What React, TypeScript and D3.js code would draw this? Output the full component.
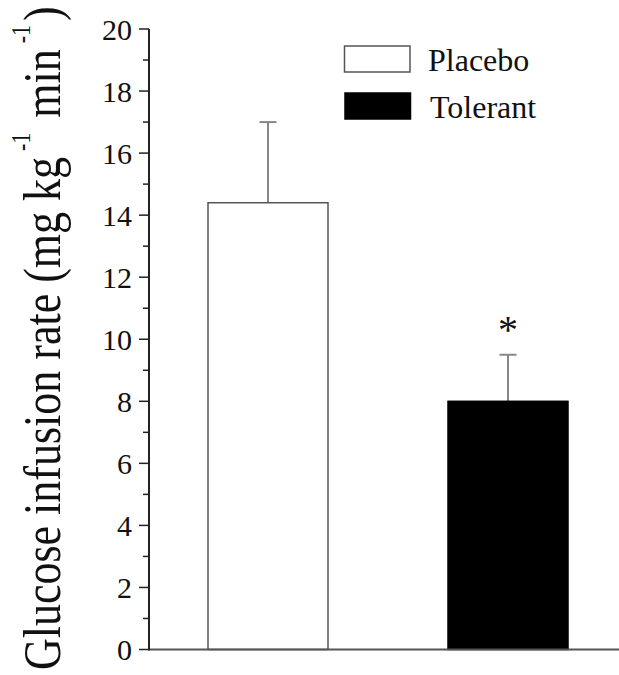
import React from "react";
import * as d3 from "d3";

const categories = ["Placebo", "Tolerant"];
const values = [14.4, 8.0];
const errors = [2.6, 1.5];
const fills = ["#ffffff", "#000000"];
const majorTicks = [0, 2, 4, 6, 8, 10, 12, 14, 16, 18, 20];
const minorTicks = [1, 3, 5, 7, 9, 11, 13, 15, 17, 19];
const significance = ["", "*"];

const W = 619;
const H = 675;
const FONT = "'Liberation Serif', 'Times New Roman', serif";

export default function App() {
  const y = d3.scaleLinear().domain([0, 20]).range([649.5, 29]);
  const x = d3
    .scaleBand<string>()
    .domain(categories)
    .range([148, 628])
    .paddingInner(0.5)
    .paddingOuter(0.25);
  const axisX = 149;

  return (
    <svg
      width={W}
      height={H}
      style={{ position: "absolute", left: 0, top: 0, background: "#fff" }}
      fontFamily={FONT}
    >
      {/* bars */}
      {categories.map((c, i) => {
        const x0 = x(c)!;
        const bw = x.bandwidth();
        const cx = x0 + bw / 2;
        return (
          <g key={c}>
            <line
              x1={cx}
              x2={cx}
              y1={y(values[i])}
              y2={y(values[i] + errors[i])}
              stroke="#888"
              strokeWidth={2}
            />
            <line
              x1={cx - 8.5}
              x2={cx + 8.5}
              y1={y(values[i] + errors[i])}
              y2={y(values[i] + errors[i])}
              stroke="#888"
              strokeWidth={2}
            />
            <rect
              x={x0}
              y={y(values[i])}
              width={bw}
              height={y(0) - y(values[i])}
              fill={fills[i]}
              stroke={i === 0 ? "#555" : "#000"}
              strokeWidth={1.5}
            />
            {significance[i] && (
              <text
                x={cx}
                y={343}
                textAnchor="middle"
                fontSize={40}
                fill="#111"
              >
                {significance[i]}
              </text>
            )}
          </g>
        );
      })}

      {/* x axis line */}
      <line x1={axisX} x2={W} y1={y(0)} y2={y(0)} stroke="#555" strokeWidth={2} />

      {/* y axis */}
      <line x1={axisX} x2={axisX} y1={y(20)} y2={y(0) + 1} stroke="#222" strokeWidth={2} />
      {majorTicks.map((t) => (
        <g key={"M" + t}>
          <line x1={axisX - 10} x2={axisX} y1={y(t)} y2={y(t)} stroke="#222" strokeWidth={1.5} />
          <text
            x={132}
            y={y(t)}
            dy="0.35em"
            textAnchor="end"
            fontSize={30}
            fill="#111"
          >
            {t}
          </text>
        </g>
      ))}
      {minorTicks.map((t) => (
        <line key={"m" + t} x1={axisX - 6} x2={axisX} y1={y(t)} y2={y(t)} stroke="#222" strokeWidth={1.5} />
      ))}

      {/* y label */}
      <text
        transform="translate(60,670) rotate(-90) scale(1,1.2)"
        fontSize={44}
        fill="#111"
        textAnchor="start"
      >
        Glucose infusion rate (mg kg
        <tspan fontSize={22} dx={6} dy={-25}>-1</tspan>
        <tspan dx={4} dy={25}> min</tspan>
        <tspan fontSize={22} dx={6} dy={-25}>-1</tspan>
        <tspan dx={4} dy={25}>)</tspan>
      </text>

      {/* legend */}
      {categories.map((c, i) => (
        <g key={"L" + c}>
          <rect
            x={344.5 + i * 0.5}
            y={46 + i * 47}
            width={65.5}
            height={26}
            fill={fills[i]}
            stroke={i === 0 ? "#555" : "#000"}
            strokeWidth={1.5}
          />
          <text x={428 + i * 2} y={71 + i * 47} fontSize={32} fill="#111">
            {c}
          </text>
        </g>
      ))}
    </svg>
  );
}
